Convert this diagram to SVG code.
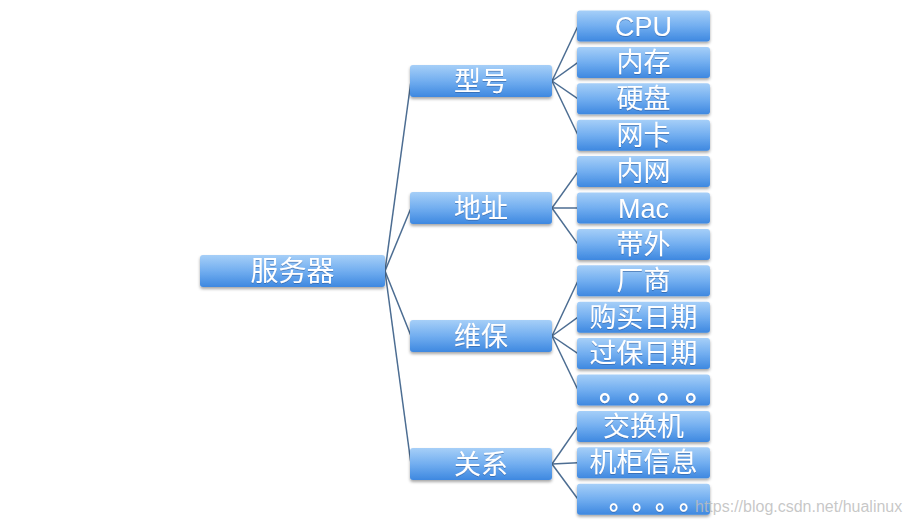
<svg xmlns="http://www.w3.org/2000/svg" width="911" height="525" viewBox="0 0 911 525">
<defs>
<linearGradient id="g" x1="0" y1="0" x2="0" y2="1">
<stop offset="0" stop-color="#a6cff8"/>
<stop offset="0.5" stop-color="#72aef0"/>
<stop offset="1" stop-color="#3e88e0"/>
</linearGradient>
<filter id="sh" x="-10%" y="-20%" width="120%" height="160%">
<feDropShadow dx="0" dy="2" stdDeviation="1.5" flood-color="#000" flood-opacity="0.35"/>
</filter>
<filter id="ts" x="-10%" y="-20%" width="120%" height="150%">
<feDropShadow dx="0" dy="1" stdDeviation="0.6" flood-color="#1d4f8f" flood-opacity="0.5"/>
</filter>
</defs>
<style>
.b{fill:url(#g);filter:url(#sh)}
.t{fill:#fff;font-family:"Noto Sans CJK SC","Liberation Sans",sans-serif;font-size:27px;text-anchor:middle;filter:url(#ts)}
.l{font-family:"Liberation Sans","Noto Sans CJK SC",sans-serif}
.d{font-weight:bold}
.c line{stroke:#4c6d92;stroke-width:1.5}
</style>
<rect width="911" height="525" fill="#fff"/>
<g class="c" id="connectors">
<line x1="385" y1="271" x2="411" y2="81"/>
<line x1="385" y1="271" x2="411" y2="208"/>
<line x1="385" y1="271" x2="411" y2="336"/>
<line x1="385" y1="271" x2="411" y2="464"/>
<line x1="552" y1="81" x2="578" y2="26"/>
<line x1="552" y1="81" x2="578" y2="62.4"/>
<line x1="552" y1="81" x2="578" y2="98.8"/>
<line x1="552" y1="81" x2="578" y2="135.2"/>
<line x1="552" y1="208" x2="578" y2="171.6"/>
<line x1="552" y1="208" x2="578" y2="208"/>
<line x1="552" y1="208" x2="578" y2="244.4"/>
<line x1="552" y1="336" x2="578" y2="280.8"/>
<line x1="552" y1="336" x2="578" y2="317.2"/>
<line x1="552" y1="336" x2="578" y2="353.6"/>
<line x1="552" y1="336" x2="578" y2="390"/>
<line x1="552" y1="464" x2="578" y2="426.4"/>
<line x1="552" y1="464" x2="578" y2="462.8"/>
<line x1="552" y1="464" x2="578" y2="499.2"/>
</g>
<g id="root"><rect class="b" x="200" y="255" width="185" height="32" rx="3"/><text class="t" x="292.5" y="281" style="font-size:28px">服务器</text></g>
<g id="n-xinghao"><rect class="b" x="410" y="65" width="142" height="32" rx="3"/><text class="t" x="481" y="90.5">型号</text></g>
<g id="n-dizhi"><rect class="b" x="410" y="192" width="142" height="32" rx="3"/><text class="t" x="481" y="217.5">地址</text></g>
<g id="n-weibao"><rect class="b" x="410" y="320" width="142" height="32" rx="3"/><text class="t" x="481" y="345.5">维保</text></g>
<g id="n-guanxi"><rect class="b" x="410" y="448" width="142" height="32" rx="3"/><text class="t" x="481" y="473.5">关系</text></g>
<g id="l-cpu"><rect class="b" x="577" y="10.5" width="133" height="31" rx="3"/><text class="t l" x="643.5" y="35.5">CPU</text></g>
<g id="l-neicun"><rect class="b" x="577" y="46.9" width="133" height="31" rx="3"/><text class="t" x="643.5" y="71.9">内存</text></g>
<g id="l-yingpan"><rect class="b" x="577" y="83.3" width="133" height="31" rx="3"/><text class="t" x="643.5" y="108.3">硬盘</text></g>
<g id="l-wangka"><rect class="b" x="577" y="119.7" width="133" height="31" rx="3"/><text class="t" x="643.5" y="144.7">网卡</text></g>
<g id="l-neiwang"><rect class="b" x="577" y="156.1" width="133" height="31" rx="3"/><text class="t" x="643.5" y="181.1">内网</text></g>
<g id="l-mac"><rect class="b" x="577" y="192.5" width="133" height="31" rx="3"/><text class="t l" x="643.5" y="217.5">Mac</text></g>
<g id="l-daiwai"><rect class="b" x="577" y="228.9" width="133" height="31" rx="3"/><text class="t" x="643.5" y="253.9">带外</text></g>
<g id="l-changshang"><rect class="b" x="577" y="265.3" width="133" height="31" rx="3"/><text class="t" x="643.5" y="290.3">厂商</text></g>
<g id="l-goumai"><rect class="b" x="577" y="301.7" width="133" height="31" rx="3"/><text class="t" x="643.5" y="326.7">购买日期</text></g>
<g id="l-guobao"><rect class="b" x="577" y="338.1" width="133" height="31" rx="3"/><text class="t" x="643.5" y="363.1">过保日期</text></g>
<g id="l-etc1"><rect class="b" x="577" y="374.5" width="133" height="31" rx="3"/><text class="t d" x="614 643 672 700" y="400" style="font-size:30px">。。。。</text></g>
<g id="l-jiaohuanji"><rect class="b" x="577" y="410.9" width="133" height="31" rx="3"/><text class="t" x="643.5" y="435.9">交换机</text></g>
<g id="l-jigui"><rect class="b" x="577" y="447.3" width="133" height="31" rx="3"/><text class="t" x="643.5" y="472.3">机柜信息</text></g>
<g id="l-etc2"><rect class="b" x="577" y="483.7" width="133" height="31" rx="3"/><text class="t d" x="621 644 667 691" y="509" style="font-size:24px">。。。。</text></g>
<text x="695" y="512" font-family="Liberation Sans, sans-serif" font-size="16" fill="#bdbdbd" fill-opacity="0.85">https://blog.csdn.net/hualinux</text>
</svg>
